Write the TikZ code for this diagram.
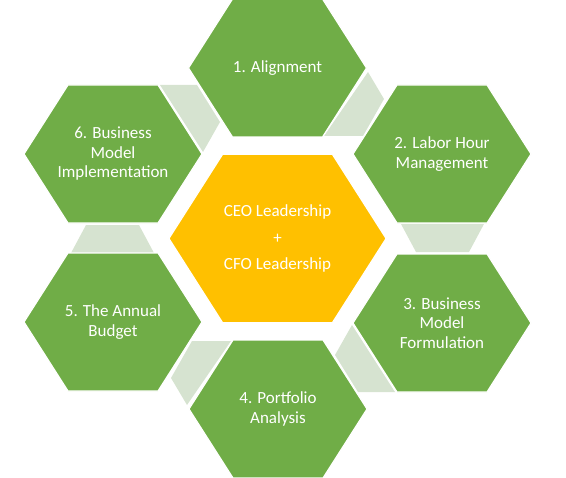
\documentclass[tikz,border=0pt]{standalone}
\usepackage{fontspec}
\setmainfont{Carlito}
\usepackage{xcolor}
\usepackage{tikz}
\definecolor{leaf}{RGB}{112,173,71}
\definecolor{gold}{RGB}{255,192,0}
\definecolor{sage}{RGB}{214,227,208}

\tikzset{hexagon/.pic={\path[pic actions] (-89,0) -- (-45,-69) -- (45,-69) -- (89,0) -- (45,69) -- (-45,69) -- cycle;}}

\begin{document}
\begin{tikzpicture}[x=1bp, y=-1bp]
  \tikzstyle{outer} = [fill=leaf, draw=white, line width=1.2bp]
  \tikzstyle{inner} = [fill=gold, draw=white, line width=1.2bp, scale=1.22]
  \tikzstyle{link} = [fill=sage]
  \tikzstyle{label} = [text=white, align=center, font=\fontsize{17bp}{19.5bp}\selectfont]
  \tikzstyle{core} = [text=white, align=center, font=\fontsize{17bp}{26.5bp}\selectfont]

  \useasboundingbox (0,0) rectangle (566,478);

  % Links between neighbouring cells
  \fill[link] (368,72) -- (384,99) -- (363,136) -- (324,136) -- cycle;
  \fill[link] (401,224) -- (484,224) -- (469,252) -- (416,252) -- cycle;
  \fill[link] (352,325) -- (395,392) -- (358,392) -- (335,355) -- cycle;
  \fill[link] (187,405) -- (171,378) -- (192,341) -- (231,341) -- cycle;
  \fill[link] (71,253) -- (154,253) -- (139,225) -- (86,225) -- cycle;
  \fill[link] (203,152) -- (160,85) -- (197,85) -- (220,122) -- cycle;

  % Outer ring
  \pic[outer] at (277.5,68) {hexagon};
  \pic[outer] at (442,154) {hexagon};
  \pic[outer] at (442,323) {hexagon};
  \pic[outer] at (278,409) {hexagon};
  \pic[outer] at (113,322) {hexagon};
  \pic[outer] at (113,154) {hexagon};

  % Centre
  \pic[inner] at (277.5,238.5) {hexagon};

  % Texts
  \node [label] (align) at (277.5,68) {1. Alignment};
  \node [label] (labor) at (442,154) {2. Labor Hour\\Management};
  \node [label] (formul) at (442,323) {3. Business\\Model\\Formulation};
  \node [label] (portf) at (278,409) {4. Portfolio\\Analysis};
  \node [label] (budget) at (113,322) {5. The Annual\\Budget};
  \node [label] (implem) at (113,154) {6. Business\\Model\\Implementation};
  \node [core] (lead) at (277.5,238.5) {CEO Leadership\\+\\CFO Leadership};
\end{tikzpicture}
\end{document}
